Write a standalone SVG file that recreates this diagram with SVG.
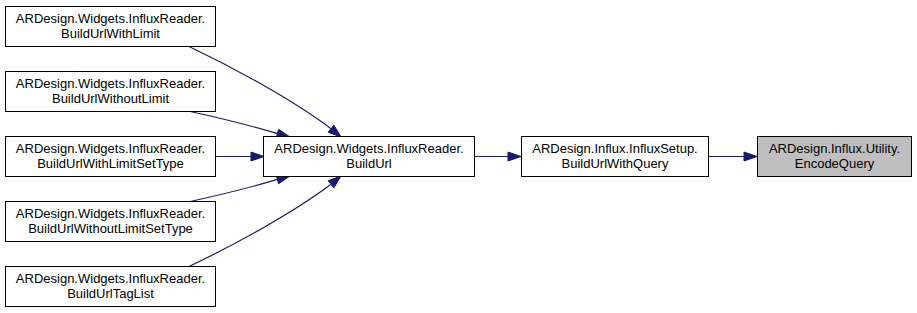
<svg xmlns="http://www.w3.org/2000/svg" width="917" height="313" viewBox="0 0 917 313">
  <style>
    .node rect { fill: #ffffff; stroke: #000000; stroke-width: 1; }
    .node.current rect { fill: #bfbfbf; }
    .node text { font-family: "Liberation Sans", Arial, sans-serif; font-size: 13px; fill: #000000; text-anchor: middle; }
    .edge path { fill: none; stroke: #191970; stroke-width: 1.2; }
    .edge polygon { fill: #191970; stroke: #191970; stroke-width: 1; }
  </style>
  <rect x="0" y="0" width="917" height="313" fill="#ffffff"/>

  <!-- call edges -->
  <g id="edges">
    <g class="edge">
      <path d="M188,46 C230,66 290,98 331,128.7"/>
      <polygon points="341,137 328.1,132.2 333.9,125.2"/>
    </g>
    <g class="edge">
      <path d="M188,111 C220,118 252,126 277.4,133.6"/>
      <polygon points="290,137 276.2,137.95 278.6,129.25"/>
    </g>
    <g class="edge">
      <path d="M216,156.5 H251"/>
      <polygon points="264,156.5 251,152 251,161"/>
    </g>
    <g class="edge">
      <path d="M188,202 C220,195 252,187 277.4,179.4"/>
      <polygon points="290,176 278.6,183.75 276.2,175.05"/>
    </g>
    <g class="edge">
      <path d="M188,267 C230,247 290,215 331,184.3"/>
      <polygon points="341,176 333.9,187.8 328.1,180.8"/>
    </g>
    <g class="edge">
      <path d="M475,156.5 H508"/>
      <polygon points="521,156.5 508,152 508,161"/>
    </g>
    <g class="edge">
      <path d="M709,156.5 H744"/>
      <polygon points="757,156.5 744,152 744,161"/>
    </g>
  </g>

  <!-- callers -->
  <g id="BuildUrlWithLimit" class="node">
    <rect x="5.5" y="6.5" width="210" height="40"/>
    <text x="110.5" y="23">ARDesign.Widgets.InfluxReader.</text>
    <text x="110.5" y="38">BuildUrlWithLimit</text>
  </g>
  <g id="BuildUrlWithoutLimit" class="node">
    <rect x="5.5" y="71.5" width="210" height="40"/>
    <text x="110.5" y="88">ARDesign.Widgets.InfluxReader.</text>
    <text x="110.5" y="103">BuildUrlWithoutLimit</text>
  </g>
  <g id="BuildUrlWithLimitSetType" class="node">
    <rect x="5.5" y="136.5" width="210" height="40"/>
    <text x="110.5" y="153">ARDesign.Widgets.InfluxReader.</text>
    <text x="110.5" y="168">BuildUrlWithLimitSetType</text>
  </g>
  <g id="BuildUrlWithoutLimitSetType" class="node">
    <rect x="5.5" y="201.5" width="210" height="40"/>
    <text x="110.5" y="218">ARDesign.Widgets.InfluxReader.</text>
    <text x="110.5" y="233">BuildUrlWithoutLimitSetType</text>
  </g>
  <g id="BuildUrlTagList" class="node">
    <rect x="5.5" y="266.5" width="210" height="40"/>
    <text x="110.5" y="283">ARDesign.Widgets.InfluxReader.</text>
    <text x="110.5" y="298">BuildUrlTagList</text>
  </g>

  <!-- callee chain -->
  <g id="BuildUrl" class="node">
    <rect x="263.5" y="136.5" width="211" height="40"/>
    <text x="369" y="153">ARDesign.Widgets.InfluxReader.</text>
    <text x="369" y="168">BuildUrl</text>
  </g>

  <g id="BuildUrlWithQuery" class="node">
    <rect x="521.5" y="136.5" width="187" height="40"/>
    <text x="615" y="153">ARDesign.Influx.InfluxSetup.</text>
    <text x="615" y="168">BuildUrlWithQuery</text>
  </g>

  <g id="EncodeQuery" class="node current">
    <rect x="757.5" y="136.5" width="154" height="40"/>
    <text x="834.5" y="153">ARDesign.Influx.Utility.</text>
    <text x="834.5" y="168">EncodeQuery</text>
  </g>
</svg>
